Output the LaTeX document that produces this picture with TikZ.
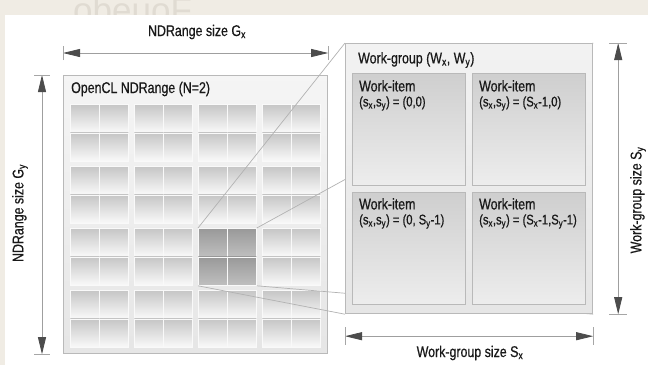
\documentclass[tikz,border=0pt]{standalone}
\usepackage{fontspec}
\setmainfont{Liberation Sans}[FakeStretch=0.8, FakeBold=0.6]
\newfontfamily\ghostfont{Liberation Sans}
\usepackage{tikz}
\usetikzlibrary{arrows.meta}
\usepackage{xcolor}
\definecolor{paper}{RGB}{240,236,228}
\definecolor{ghost}{RGB}{224,219,210}
\newcommand{\coordfont}{\fontsize{14}{14}\selectfont}
\pgfdeclarelayer{back}
\pgfdeclarelayer{front}
\pgfsetlayers{back,main,front}

\begin{document}
\begin{tikzpicture}[
    x=1pt, y=-1pt,
    every node/.style={font=\fontsize{15.5}{16}\selectfont},
    lbl/.style={inner sep=0pt, text=black!90},
    cell/.style={draw=gray!5, line width=0.8pt, anchor=north west, inner sep=0pt,
                 minimum width=29pt, minimum height=28.5pt,
                 top color=gray!45, bottom color=gray!4},
    hot/.style={top color=gray!80, bottom color=gray!50},
    frame/.style={draw=gray!55, line width=1.2pt, anchor=north west, inner sep=0pt},
    item/.style={draw=gray!55, line width=1.2pt, anchor=north west, inner sep=0pt,
                 minimum width=113pt, minimum height=112pt,
                 top color=gray!38, bottom color=gray!14},
    itemtxt/.style={lbl, anchor=north west, align=left},
    dim/.style={{Triangle[length=17pt,width=8pt,color=black!70]}-{Triangle[length=17pt,width=8pt,color=black!70]},
                draw=gray!75, line width=0.8pt},
    tick/.style={draw=gray!70, line width=0.8pt},
    proj/.style={draw=gray!60, line width=0.7pt}
  ]
  \useasboundingbox (0,0) rectangle (648,365);

  \begin{pgfonlayer}{back}
    % Paper
    \fill[paper] (0,0) rectangle (648,365);
    \node[inner sep=0pt, anchor=base west, text=ghost,
          font=\ghostfont\fontsize{35}{35}\selectfont] (mark) at (73,22) {obeuoF};
    \fill[white] (5,15) rectangle (648,365);

    % NDRange
    \node[frame, minimum width=264pt, minimum height=278pt,
          top color=gray!8, bottom color=gray!20] (nd) at (63,75) {};
    \node[lbl, anchor=west] (ndt) at (71,89) {OpenCL NDRange (N=2)};
    \foreach \gc in {0,...,3}
      \foreach \gr in {0,...,3}
        \foreach \i in {0,1}
          \foreach \j in {0,1} {
            \ifnum\gc\gr=22 \def\tone{hot}\else\def\tone{}\fi
            \node[cell, \tone] (c-\gc\i-\gr\j)
              at ({70+64*\gc+29*\i},{104+62*\gr+28.5*\j}) {};
          }
  \end{pgfonlayer}

  % Work-group
  \begin{pgfonlayer}{front}
    \node[frame, minimum width=247pt, minimum height=270pt,
          top color=gray!10, bottom color=gray!20] (wg) at (345,43) {};
    \node[lbl, anchor=west] (wgt) at (358,60)
      {Work-group (W\textsubscript{x}, W\textsubscript{y})};

    \node[item] (w00) at (352,73) {};
    \node[item] (w10) at (472,73) {};
    \node[item] (w01) at (352,192) {};
    \node[item] (w11) at (472,192) {};

    \node[itemtxt] (t00) at (359,80)
      {Work-item\\[-1pt]{\coordfont(s\textsubscript{x},s\textsubscript{y}) = (0,0)}};
    \node[itemtxt] (t10) at (479,80)
      {Work-item\\[-1pt]{\coordfont(s\textsubscript{x},s\textsubscript{y}) = (S\textsubscript{x}-1,0)}};
    \node[itemtxt] (t01) at (359,198)
      {Work-item\\[-1pt]{\coordfont(s\textsubscript{x},s\textsubscript{y}) = (0, S\textsubscript{y}-1)}};
    \node[itemtxt] (t11) at (479,198)
      {Work-item\\[-1pt]{\coordfont(s\textsubscript{x},s\textsubscript{y}) = (S\textsubscript{x}-1,S\textsubscript{y}-1)}};
  \end{pgfonlayer}

  % Projection of the dark group
  \draw[proj] (c-20-20.north west) -- (wg.north west);
  \draw[proj] (c-21-20.north east) -- (wg.north east);
  \draw[proj] (c-20-21.south west) -- (wg.south west);
  \draw[proj] (c-21-21.south east) -- (wg.south east);

  % Sizes
  \draw[dim] ([yshift=22pt]nd.north west) -- ([yshift=22pt]nd.north east);
  \draw[tick] ([yshift=15pt]nd.north west) -- ([yshift=29pt]nd.north west);
  \draw[tick] ([yshift=15pt]nd.north east) -- ([yshift=29pt]nd.north east);
  \node[lbl] (gx) at (197,32) {NDRange size G\textsubscript{x}};

  \draw[dim] ([xshift=-21pt]nd.north west) -- ([xshift=-21pt]nd.south west);
  \draw[tick] ([xshift=-29pt]nd.north west) -- ([xshift=-13pt]nd.north west);
  \draw[tick] ([xshift=-29pt]nd.south west) -- ([xshift=-13pt]nd.south west);
  \node[lbl, rotate=90] (gy) at (20,213) {NDRange size G\textsubscript{y}};

  \draw[dim] ([xshift=25pt]wg.north east) -- ([xshift=25pt]wg.south east);
  \draw[tick] ([xshift=16pt]wg.north east) -- ([xshift=34pt]wg.north east);
  \draw[tick] ([xshift=16pt]wg.south east) -- ([xshift=34pt]wg.south east);
  \node[lbl, rotate=90] (sy) at (638,200) {Work-group size S\textsubscript{y}};

  \draw[dim] ([yshift=-22pt]wg.south west) -- ([yshift=-22pt]wg.south east);
  \draw[tick] ([yshift=-13pt]wg.south west) -- ([yshift=-31pt]wg.south west);
  \draw[tick] ([yshift=-13pt]wg.south east) -- ([yshift=-31pt]wg.south east);
  \node[lbl] (sx) at (470,353) {Work-group size S\textsubscript{x}};
\end{tikzpicture}
\end{document}
